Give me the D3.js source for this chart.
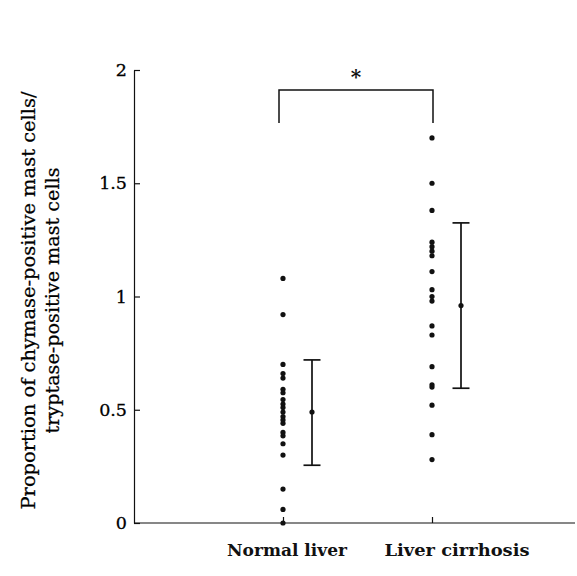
<!DOCTYPE html>
<html>
<head>
<meta charset="utf-8">
<script src="https://cdn.jsdelivr.net/npm/d3@7"></script>
<style>
  html, body { margin: 0; padding: 0; background: #fff; }
  svg { display: block; }
</style>
</head>
<body>
<svg id="chart" width="577" height="576"></svg>
<script>
// ---- data ----
const categories = ["Normal liver", "Liver cirrhosis"];
const normalValues = [1.08, 0.92, 0.70, 0.66, 0.64, 0.59, 0.575, 0.545, 0.525, 0.51, 0.49, 0.47, 0.455, 0.44, 0.40, 0.385, 0.35, 0.30, 0.15, 0.06, 0.0];
const cirrhosisValues = [1.70, 1.50, 1.38, 1.24, 1.22, 1.20, 1.18, 1.11, 1.03, 1.00, 0.98, 0.87, 0.83, 0.69, 0.61, 0.60, 0.52, 0.39, 0.28];
const means = [0.49, 0.96];
const upper = [0.72, 1.325];
const lower = [0.255, 0.595];
const yTicks = [0, 0.5, 1, 1.5, 2];
const yTickLabels = ["0", "0.5", "1", "1.5", "2"];
const bracketLevels = [1.766, 1.912];
const sigLabel = "*";
const yTitleLines = ["Proportion of chymase-positive mast cells/", "tryptase-positive mast cells"];

// ---- layout ----
const svg = d3.select("#chart");
const ink = "#111";
const serif = "'DejaVu Serif', 'Liberation Serif', serif";
const axisX0 = 134, axisX1 = 575;

const y = d3.scaleLinear().domain([0, 2]).range([523, 70]);
const x = d3.scalePoint().domain(categories).range([283, 432]);
const errOffset = 29;
const series = [normalValues, cirrhosisValues];

// y axis
const yAxis = d3.axisLeft(y)
  .tickValues(yTicks)
  .tickFormat((d, i) => yTickLabels[i])
  .tickSize(-6)
  .tickSizeOuter(0)
  .tickPadding(7);
const gy = svg.append("g").attr("transform", `translate(${axisX0},0)`).call(yAxis);
gy.selectAll("path, line").attr("stroke", ink).attr("stroke-width", 1.2);
gy.selectAll("text").attr("font-family", serif).attr("font-size", 17.5).attr("fill", "#000")
  .attr("stroke", "#000").attr("stroke-width", 0.3);

// x axis line
svg.append("line")
  .attr("x1", axisX0).attr("x2", axisX1)
  .attr("y1", y(0)).attr("y2", y(0))
  .attr("stroke", ink).attr("stroke-width", 1.2);
const xAxis = d3.axisBottom(x).tickSize(-6).tickFormat("");
const gx = svg.append("g").attr("transform", `translate(0,${y(0)})`).call(xAxis);
gx.select(".domain").remove();
gx.selectAll("line").attr("stroke", ink).attr("stroke-width", 1.2);

// category labels
const labelShift = [4, 25];
const labelWidths = [120, 145];
svg.selectAll(".cat").data(categories).enter().append("text")
  .attr("class", "cat")
  .attr("x", (d, i) => x(d) + labelShift[i])
  .attr("y", 556)
  .attr("text-anchor", "middle")
  .attr("font-family", serif)
  .attr("font-size", 17)
  .attr("font-weight", "bold")
  .attr("textLength", (d, i) => labelWidths[i])
  .attr("lengthAdjust", "spacingAndGlyphs")
  .attr("fill", ink)
  .text(d => d);

// y title
const titleG = svg.append("g").attr("transform", `translate(0,${(y(0) + y(2)) / 2 + 4}) rotate(-90)`);
const titleX = [35, 59];
const titleW = [418, 266];
titleG.selectAll("text").data(yTitleLines).enter().append("text")
  .attr("x", 0)
  .attr("y", (d, i) => titleX[i])
  .attr("text-anchor", "middle")
  .attr("font-family", serif)
  .attr("font-size", 19)
  .attr("textLength", (d, i) => titleW[i])
  .attr("lengthAdjust", "spacingAndGlyphs")
  .attr("fill", "#000")
  .attr("stroke", "#000").attr("stroke-width", 0.25)
  .text(d => d);

// dots
series.forEach((vals, i) => {
  svg.append("g").selectAll("circle").data(vals).enter().append("circle")
    .attr("cx", x(categories[i]))
    .attr("cy", d => y(d))
    .attr("r", 2.6)
    .attr("fill", ink);
});

// error bars
const capHalf = 8.5;
categories.forEach((c, i) => {
  const cx = x(c) + errOffset;
  const g = svg.append("g").attr("stroke", ink).attr("stroke-width", 1.7);
  g.append("line").attr("x1", cx).attr("x2", cx).attr("y1", y(upper[i])).attr("y2", y(lower[i]));
  g.append("line").attr("x1", cx - capHalf).attr("x2", cx + capHalf).attr("y1", y(upper[i])).attr("y2", y(upper[i]));
  g.append("line").attr("x1", cx - capHalf).attr("x2", cx + capHalf).attr("y1", y(lower[i])).attr("y2", y(lower[i]));
  svg.append("circle").attr("cx", cx).attr("cy", y(means[i])).attr("r", 2.6).attr("fill", ink);
});

// significance bracket
const bx0 = x(categories[0]) - 4, bx1 = x(categories[1]) + 1;
svg.append("path")
  .attr("d", `M${bx0},${y(bracketLevels[0])}V${y(bracketLevels[1])}H${bx1}V${y(bracketLevels[0])}`)
  .attr("fill", "none").attr("stroke", ink).attr("stroke-width", 1.5);
svg.append("text")
  .attr("x", (bx0 + bx1) / 2)
  .attr("y", y(bracketLevels[1]) - 6)
  .attr("text-anchor", "middle")
  .attr("font-family", serif)
  .attr("font-size", 20)
  .attr("font-weight", "bold")
  .attr("fill", ink)
  .text(sigLabel);
</script>
</body>
</html>
